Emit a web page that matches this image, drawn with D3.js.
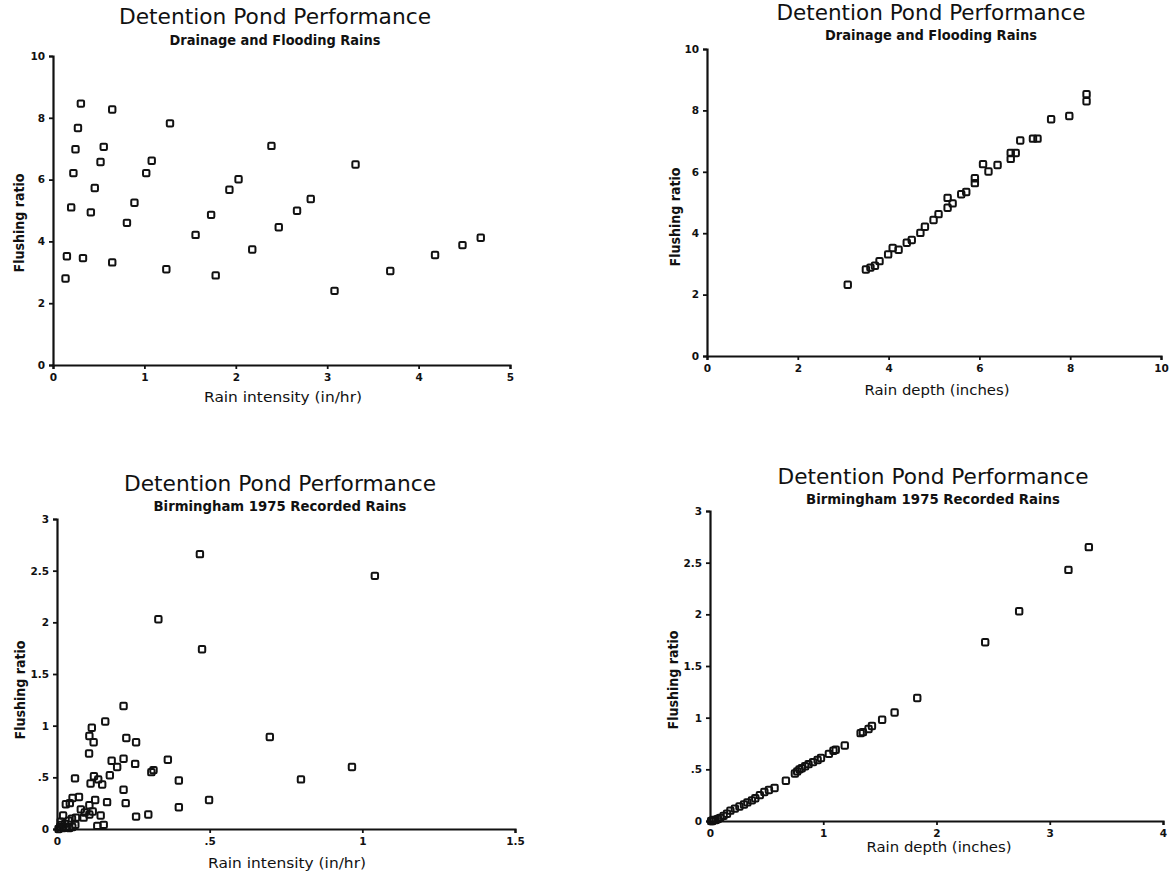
<!DOCTYPE html>
<html>
<head>
<meta charset="utf-8">
<script src="https://cdn.jsdelivr.net/npm/d3@7"></script>
<style>
  html, body { margin: 0; padding: 0; background: #fff; }
  svg { display: block; }
</style>
</head>
<body>
<svg id="chart" width="1173" height="871"></svg>
<script>
// ---------- Data ----------
// Panel 1: Drainage and Flooding Rains, rain intensity vs flushing ratio
const p1Intensity = [0.137,0.152,0.199,0.223,0.246,0.273,0.305,0.328,0.414,0.457,0.52,0.555,0.648,0.648,0.809,0.891,1.02,1.08,1.24,1.28,1.56,1.73,1.78,1.93,2.03,2.18,2.39,2.47,2.67,2.82,3.08,3.31,3.69,4.18,4.48,4.68];
const p1Ratio     = [2.80,3.52,5.10,6.21,6.98,7.67,8.46,3.46,4.94,5.73,6.57,7.06,8.27,3.32,4.60,5.25,6.21,6.61,3.10,7.82,4.21,4.86,2.90,5.67,6.01,3.74,7.09,4.46,4.99,5.37,2.40,6.49,3.04,3.56,3.88,4.12];

// Panel 2: Drainage and Flooding Rains, rain depth vs flushing ratio
const p2Depth = [3.10,3.50,3.60,3.70,3.80,3.99,4.09,4.22,4.40,4.51,4.70,4.80,4.99,5.10,5.30,5.30,5.41,5.60,5.71,5.90,5.90,6.08,6.20,6.40,6.69,6.69,6.80,6.90,7.18,7.28,7.58,7.98,8.36,8.36];
const p2Ratio = [2.32,2.82,2.88,2.94,3.09,3.31,3.52,3.46,3.69,3.78,4.01,4.21,4.43,4.62,4.83,5.15,4.97,5.27,5.34,5.63,5.79,6.25,6.01,6.22,6.42,6.61,6.61,7.02,7.08,7.08,7.71,7.82,8.30,8.53];

// Panel 3: Birmingham 1975 Recorded Rains, rain intensity vs flushing ratio
const p3Intensity = [0.468,1.041,0.332,0.475,0.218,0.158,0.114,0.106,0.120,0.227,0.259,0.697,0.105,0.179,0.218,0.197,0.256,0.173,0.309,0.316,0.363,0.399,0.059,0.121,0.135,0.110,0.148,0.799,0.966,0.218,0.498,0.399,0.225,0.164,0.125,0.072,0.051,0.029,0.042,0.299,0.259,0.143,0.153,0.132,0.106,0.117,0.106,0.091,0.078,0.087,0.062,0.049,0.038,0.020,0.010,0.015,0.020,0.026,0.032,0.040,0.050,0.060,0.005,0.012];
const p3Ratio     = [2.66,2.45,2.03,1.74,1.19,1.04,0.98,0.90,0.84,0.88,0.84,0.89,0.73,0.66,0.68,0.60,0.63,0.52,0.55,0.57,0.67,0.47,0.49,0.51,0.48,0.44,0.43,0.48,0.60,0.38,0.28,0.21,0.25,0.26,0.28,0.31,0.30,0.24,0.25,0.14,0.12,0.13,0.04,0.03,0.23,0.17,0.14,0.16,0.19,0.11,0.11,0.10,0.08,0.13,0.02,0.04,0.01,0.05,0.02,0.01,0.02,0.04,0.00,0.07];

// Panel 4: Birmingham 1975 Recorded Rains, rain depth vs flushing ratio
const p4Depth = [3.345,3.165,2.73,2.43,1.83,1.63,1.52,1.43,1.40,1.35,1.33,1.19,1.11,1.09,1.05,0.98,0.95,0.91,0.87,0.84,0.81,0.79,0.77,0.75,0.67,0.57,0.52,0.48,0.44,0.40,0.37,0.33,0.30,0.26,0.22,0.18,0.15,0.12,0.09,0.07,0.05,0.03,0.02,0.01];
const p4Ratio = [2.65,2.43,2.03,1.73,1.19,1.05,0.98,0.92,0.89,0.86,0.85,0.73,0.69,0.68,0.65,0.61,0.59,0.57,0.55,0.53,0.51,0.50,0.48,0.46,0.39,0.32,0.30,0.28,0.25,0.22,0.20,0.18,0.16,0.14,0.12,0.10,0.07,0.05,0.03,0.02,0.01,0.01,0.00,0.00];

// Tick values and labels
const ticks0to10 = [0,2,4,6,8,10];
const ticks0to5  = [0,1,2,3,4,5];
const ticks0to4  = [0,1,2,3,4];
const ticksHalfTo3   = [0,0.5,1,1.5,2,2.5,3];
const ticksHalfTo1_5 = [0,0.5,1,1.5];
const halfLabels = {0:"0",0.5:".5",1:"1",1.5:"1.5",2:"2",2.5:"2.5",3:"3"};

const titleText = "Detention Pond Performance";
const subDrainage = "Drainage and Flooding Rains";
const subBirmingham = "Birmingham 1975 Recorded Rains";
const yLabelText = "Flushing ratio";
const xIntensity = "Rain intensity (in/hr)";
const xDepth = "Rain depth (inches)";

// ---------- Drawing ----------
const svg = d3.select("#chart");
const INK = "#111";

function panel(cfg) {
  const g = svg.append("g");
  const x = d3.scaleLinear().domain(cfg.xDomain).range(cfg.xRange);
  const y = d3.scaleLinear().domain(cfg.yDomain).range(cfg.yRange);

  // axes
  const xAxis = d3.axisBottom(x).tickValues(cfg.xTicks).tickSize(4).tickPadding(5)
      .tickFormat(cfg.xFormat);
  const yAxis = d3.axisLeft(y).tickValues(cfg.yTicks).tickSize(4).tickPadding(4)
      .tickFormat(cfg.yFormat);

  const gx = g.append("g").attr("transform", `translate(0,${cfg.yRange[0]})`).call(xAxis);
  const gy = g.append("g").attr("transform", `translate(${cfg.xRange[0]},0)`).call(yAxis);
  [gx, gy].forEach(a => {
    a.select(".domain").attr("stroke", INK).attr("stroke-width", 2.2);
    a.selectAll(".tick line").attr("stroke", INK).attr("stroke-width", 1.8);
    a.selectAll(".tick text").attr("fill", INK)
      .style("font-family", "'DejaVu Sans', sans-serif")
      .style("font-weight", "bold")
      .style("font-size", "10.5px");
  });

  // titles
  g.append("text")
    .attr("x", cfg.titleX).attr("y", cfg.titleY)
    .attr("text-anchor", "middle")
    .attr("textLength", cfg.titleW).attr("lengthAdjust", "spacingAndGlyphs")
    .style("font-family", "'DejaVu Sans', sans-serif")
    .style("font-size", "21px").attr("fill", INK)
    .text(titleText);
  g.append("text")
    .attr("x", cfg.titleX).attr("y", cfg.subY)
    .attr("text-anchor", "middle")
    .attr("textLength", cfg.subW).attr("lengthAdjust", "spacingAndGlyphs")
    .style("font-family", "'DejaVu Sans', sans-serif")
    .style("font-weight", "bold")
    .style("font-size", "13.5px").attr("fill", INK)
    .text(cfg.subtitle);

  // axis labels
  g.append("text")
    .attr("transform", `translate(${cfg.yLabX},${cfg.yLabY}) rotate(-90)`)
    .attr("text-anchor", "middle")
    .attr("textLength", 99).attr("lengthAdjust", "spacingAndGlyphs")
    .style("font-family", "'DejaVu Sans', sans-serif")
    .style("font-weight", "bold")
    .style("font-size", "14.5px").attr("fill", INK)
    .text(yLabelText);
  g.append("text")
    .attr("x", cfg.xLabX).attr("y", cfg.xLabY)
    .attr("text-anchor", "middle")
    .attr("textLength", cfg.xLabW).attr("lengthAdjust", "spacingAndGlyphs")
    .style("font-family", "'DejaVu Sans', sans-serif")
    .style("font-size", "14px").attr("fill", INK)
    .text(cfg.xLabel);

  // markers
  const pts = d3.zip(cfg.xs, cfg.ys);
  const s = 6.4;
  g.append("g").selectAll("rect").data(pts).join("rect")
    .attr("x", d => x(d[0]) - s / 2)
    .attr("y", d => y(d[1]) - s / 2)
    .attr("width", s).attr("height", s)
    .attr("rx", 1.2).attr("ry", 1.2)
    .attr("fill", "none").attr("stroke", INK).attr("stroke-width", 2);
}

const intFmt = d => String(d);
const halfFmt = d => halfLabels[d];

panel({
  xs: p1Intensity, ys: p1Ratio,
  xDomain: [0,5], xRange: [53,510], yDomain: [0,10], yRange: [365,56],
  xTicks: ticks0to5, yTicks: ticks0to10, xFormat: intFmt, yFormat: intFmt,
  titleX: 275, titleY: 24, titleW: 312, subY: 45, subW: 211, subtitle: subDrainage,
  yLabX: 24, yLabY: 223, xLabX: 283, xLabY: 402, xLabW: 158, xLabel: xIntensity
});
panel({
  xs: p2Depth, ys: p2Ratio,
  xDomain: [0,10], xRange: [707,1161], yDomain: [0,10], yRange: [356,49],
  xTicks: ticks0to10, yTicks: ticks0to10, xFormat: intFmt, yFormat: intFmt,
  titleX: 931, titleY: 20, titleW: 309, subY: 40, subW: 212, subtitle: subDrainage,
  yLabX: 680, yLabY: 217, xLabX: 937, xLabY: 395, xLabW: 145, xLabel: xDepth
});
panel({
  xs: p3Intensity, ys: p3Ratio,
  xDomain: [0,1.5], xRange: [57,515], yDomain: [0,3], yRange: [829,519],
  xTicks: ticksHalfTo1_5, yTicks: ticksHalfTo3, xFormat: halfFmt, yFormat: halfFmt,
  titleX: 280, titleY: 491, titleW: 312, subY: 511, subW: 253, subtitle: subBirmingham,
  yLabX: 25, yLabY: 690, xLabX: 287, xLabY: 868, xLabW: 158, xLabel: xIntensity
});
panel({
  xs: p4Depth, ys: p4Ratio,
  xDomain: [0,4], xRange: [710,1163], yDomain: [0,3], yRange: [821,511],
  xTicks: ticks0to4, yTicks: ticksHalfTo3, xFormat: intFmt, yFormat: halfFmt,
  titleX: 933, titleY: 484, titleW: 311, subY: 504, subW: 254, subtitle: subBirmingham,
  yLabX: 678, yLabY: 680, xLabX: 939, xLabY: 852, xLabW: 145, xLabel: xDepth
});
</script>
</body>
</html>
